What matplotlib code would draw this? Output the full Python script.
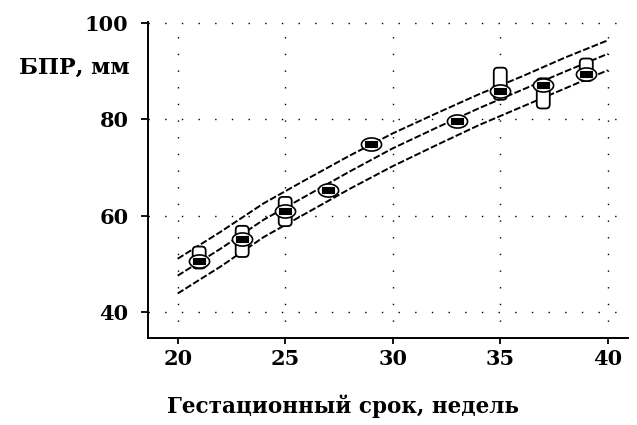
import numpy as np
import matplotlib
matplotlib.use("Agg")
import matplotlib.pyplot as plt
from matplotlib.path import Path
from matplotlib.patches import FancyBboxPatch

# Norm curves for biparietal diameter (mm) by gestational week
curve_weeks = [20, 22, 24, 26, 28, 30, 32, 34, 36, 38, 40]
bpr_upper = [51.1, 56.7, 62.6, 67.6, 72.5, 77.1, 81.2, 85.2, 88.9, 92.8, 96.4]
bpr_middle = [47.6, 53.2, 59.2, 64.2, 69.2, 74.0, 78.2, 82.3, 86.1, 89.9, 93.6]
bpr_lower = [43.9, 49.5, 55.6, 60.6, 65.6, 70.3, 74.6, 78.8, 82.6, 86.4, 90.2]

# Measured values and their spread
obs_weeks = [21, 23, 25, 27, 29, 33, 35, 37, 39]
obs_value = [50.7, 55.1, 61.1, 65.4, 74.8, 79.7, 85.8, 87.2, 89.5]
obs_low = [49.9, 52.3, 58.7, 65.4, 74.8, 79.7, 84.9, 83.1, 88.8]
obs_high = [52.8, 57.1, 63.1, 65.4, 74.8, 79.7, 89.9, 87.7, 91.8]

x_ticks = [20, 25, 30, 35, 40]
y_ticks = [40, 60, 80, 100]

W, H = 637, 425
DPI = 100
XLIM = (18.62, 40.94)
YLIM = (34.67, 100.2)
AX_L, AX_R, AX_T, AX_B = 148, 628, 22, 338

FONT = dict(family="DejaVu Serif", weight="bold")

fig = plt.figure(figsize=(W / DPI, H / DPI), dpi=DPI)
ax = fig.add_axes([AX_L / W, 1 - AX_B / H, (AX_R - AX_L) / W, (AX_B - AX_T) / H])
ax.set_xlim(*XLIM)
ax.set_ylim(*YLIM)

# data units per pixel, used to size the spread boxes in pixels
x_px = (XLIM[1] - XLIM[0]) / (AX_R - AX_L)
y_px = (YLIM[1] - YLIM[0]) / (AX_B - AX_T)

ax.grid(True, color="black", linestyle=(0, (1, 11)), linewidth=1.0)
ax.set_axisbelow(True)

for vals in (bpr_upper, bpr_middle, bpr_lower):
    ax.plot(curve_weeks, vals, color="black", lw=1.4,
            linestyle=(0, (3.5, 1.2)), zorder=2)

# rounded boxes showing the spread of each measurement
half_w = 2.5 * x_px
pad = 4 * x_px
for wk, lo, hi in zip(obs_weeks, obs_low, obs_high):
    if hi - lo <= 0:
        continue
    box = FancyBboxPatch((wk - half_w, lo), 2 * half_w, hi - lo,
                         boxstyle=f"round,pad={pad},rounding_size={pad}",
                         mutation_aspect=y_px / x_px,
                         facecolor="white", edgecolor="black", lw=1.3, zorder=3)
    ax.add_patch(box)

t = np.linspace(0, 2 * np.pi, 60)
ellipse = Path(np.column_stack([np.cos(t), 0.65 * np.sin(t)]), closed=True)
bar = Path([(-1, -0.5), (1, -0.5), (1, 0.5), (-1, 0.5), (-1, -0.5)], closed=True)

ax.plot(obs_weeks, obs_value, linestyle="none", marker=ellipse, markersize=14.5,
        markerfacecolor="white", markeredgecolor="black", markeredgewidth=1.2,
        zorder=4)
ax.plot(obs_weeks, obs_value, linestyle="none", marker=bar, markersize=9,
        markerfacecolor="black", markeredgecolor="black", markeredgewidth=0.8,
        zorder=5)

ax.spines["top"].set_visible(False)
ax.spines["right"].set_visible(False)
ax.spines["left"].set_linewidth(1.4)
ax.spines["bottom"].set_linewidth(1.4)

ax.set_xticks(x_ticks)
ax.set_yticks(y_ticks)
ax.set_xticklabels([str(v) for v in x_ticks], fontdict=FONT, fontsize=15)
ax.set_yticklabels([str(v) for v in y_ticks], fontdict=FONT, fontsize=15)
ax.tick_params(axis="y", direction="out", length=5, width=1.3, pad=9)
ax.tick_params(axis="x", direction="out", length=4, width=1.3, pad=4)

fig.text(130 / W, 1 - 68 / H, "БПР, мм", ha="right", va="center",
         fontsize=16, **FONT)
fig.text(343 / W, 1 - 406 / H, "Гестационный срок, недель", ha="center",
         va="center", fontsize=15.5, **FONT)

fig.savefig("out.png", dpi=DPI)
